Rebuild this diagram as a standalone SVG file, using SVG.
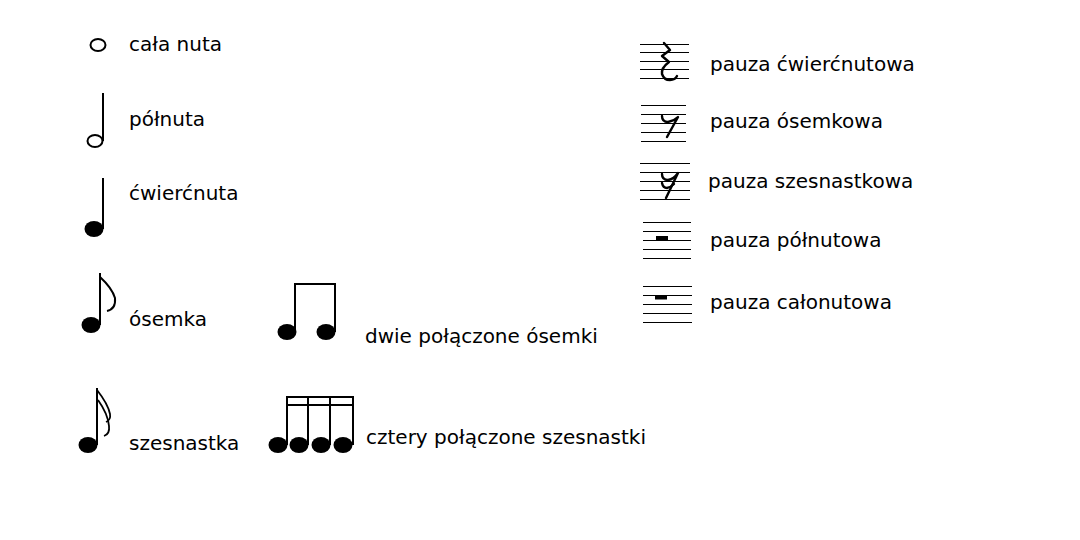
<svg xmlns="http://www.w3.org/2000/svg" width="1080" height="540" viewBox="0 0 1080 540">
<style>
text{font-family:"DejaVu Sans","Verdana",sans-serif;font-size:20px;fill:#000}
.st{stroke:#000;stroke-width:2;fill:none}
.sf{stroke:#000;stroke-width:1.8;fill:none}
.rs{stroke:#000;stroke-width:2.4;fill:none;stroke-linejoin:round;stroke-linecap:round}
.hd{fill:#000}
.staff line{stroke:#000;stroke-width:1;shape-rendering:crispEdges}
</style>
<rect width="1080" height="540" fill="#fff"/>
<g id="whole">
<ellipse cx="98" cy="45" rx="7.5" ry="6" class="st"/>
<text x="129" y="51">cała nuta</text>
</g>
<g id="half">
<line x1="103" y1="93" x2="103" y2="141" class="st"/>
<ellipse cx="95" cy="141" rx="7.5" ry="6" class="st"/>
<text x="129" y="126">półnuta</text>
</g>
<g id="quarter">
<line x1="103" y1="178" x2="103" y2="229" class="st"/>
<ellipse cx="94" cy="229" rx="9.5" ry="8" class="hd"/>
<text x="129" y="200">ćwierćnuta</text>
</g>
<g id="eighth">
<line x1="100" y1="273" x2="100" y2="325" class="st"/>
<ellipse cx="91" cy="325" rx="9.5" ry="8" class="hd"/>
<path d="M100 277 Q112 288 115 298 Q116 309 107 311" class="st"/>
<text x="129" y="326">ósemka</text>
</g>
<g id="sixteenth">
<line x1="97" y1="388" x2="97" y2="445" class="st"/>
<ellipse cx="88" cy="445" rx="9.5" ry="8" class="hd"/>
<path d="M97 390 Q108 404 110 414 Q111 420 106 422" class="sf"/>
<path d="M98 400 Q108 414 109 426 Q110 434 104 436" class="sf"/>
<text x="129" y="450">szesnastka</text>
</g>
<g id="two-eighths">
<line x1="295" y1="283" x2="295" y2="332" class="st"/>
<line x1="335" y1="283" x2="335" y2="332" class="st"/>
<line x1="294" y1="284" x2="336" y2="284" class="st"/>
<ellipse cx="287" cy="332" rx="9.5" ry="8" class="hd"/>
<ellipse cx="326" cy="332" rx="9.5" ry="8" class="hd"/>
<text x="365" y="343">dwie połączone ósemki</text>
</g>
<g id="four-sixteenths">
<line x1="287" y1="397" x2="287" y2="445" class="st"/>
<line x1="308" y1="397" x2="308" y2="445" class="st"/>
<line x1="330" y1="397" x2="330" y2="445" class="st"/>
<line x1="353" y1="397" x2="353" y2="445" class="st"/>
<line x1="286" y1="397" x2="354" y2="397" class="st"/>
<line x1="286" y1="405" x2="354" y2="405" class="st"/>
<ellipse cx="278" cy="445" rx="9.5" ry="8" class="hd"/>
<ellipse cx="299" cy="445" rx="9.5" ry="8" class="hd"/>
<ellipse cx="321" cy="445" rx="9.5" ry="8" class="hd"/>
<ellipse cx="343" cy="445" rx="9.5" ry="8" class="hd"/>
<text x="366" y="444">cztery połączone szesnastki</text>
</g>
<g id="quarter-rest">
<g class="staff"><line x1="640" y1="44.5" x2="689" y2="44.5"/><line x1="640" y1="52.5" x2="689" y2="52.5"/><line x1="640" y1="61.5" x2="689" y2="61.5"/><line x1="640" y1="69.5" x2="689" y2="69.5"/><line x1="640" y1="78.5" x2="689" y2="78.5"/></g>
<path d="M664 43 L670 50 L662 56 L669 62 Q661 68 662 74 Q664 80 670 80 Q675 80 677 76" class="rs"/>
<text x="710" y="71">pauza ćwierćnutowa</text>
</g>
<g id="eighth-rest">
<g class="staff"><line x1="641" y1="105.5" x2="686" y2="105.5"/><line x1="641" y1="114.5" x2="686" y2="114.5"/><line x1="641" y1="123.5" x2="686" y2="123.5"/><line x1="641" y1="132.5" x2="686" y2="132.5"/><line x1="641" y1="141.5" x2="686" y2="141.5"/></g>
<path d="M662 116 Q662 122 668 122 Q674 121 678 117 L667 137" class="rs"/>
<text x="710" y="128">pauza ósemkowa</text>
</g>
<g id="sixteenth-rest">
<g class="staff"><line x1="640" y1="163.5" x2="690" y2="163.5"/><line x1="640" y1="172.5" x2="690" y2="172.5"/><line x1="640" y1="181.5" x2="690" y2="181.5"/><line x1="640" y1="190.5" x2="690" y2="190.5"/><line x1="640" y1="199.5" x2="690" y2="199.5"/></g>
<path d="M662 174 Q662 180 668 180 Q674 179 678 173 L666 198" class="rs"/>
<path d="M662 183 Q663 188 667 188 Q671 187 674 184" class="rs"/>
<text x="708" y="188">pauza szesnastkowa</text>
</g>
<g id="half-rest">
<g class="staff"><line x1="643" y1="222.5" x2="691" y2="222.5"/><line x1="643" y1="231.5" x2="691" y2="231.5"/><line x1="643" y1="240.5" x2="691" y2="240.5"/><line x1="643" y1="249.5" x2="691" y2="249.5"/><line x1="643" y1="258.5" x2="691" y2="258.5"/></g>
<rect x="656" y="236" width="12" height="4.5" class="hd"/>
<text x="710" y="247">pauza półnutowa</text>
</g>
<g id="whole-rest">
<g class="staff"><line x1="643" y1="286.5" x2="692" y2="286.5"/><line x1="643" y1="295.5" x2="692" y2="295.5"/><line x1="643" y1="304.5" x2="692" y2="304.5"/><line x1="643" y1="313.5" x2="692" y2="313.5"/><line x1="643" y1="322.5" x2="692" y2="322.5"/></g>
<rect x="655" y="295" width="12" height="4.5" class="hd"/>
<text x="710" y="309">pauza całonutowa</text>
</g>
</svg>
